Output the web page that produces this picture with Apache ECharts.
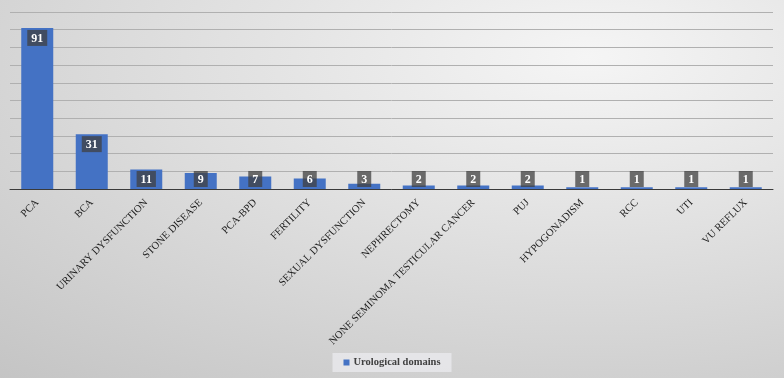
<!DOCTYPE html>
<html>
<head>
<meta charset="utf-8">
<script src="https://cdn.jsdelivr.net/npm/echarts@6/dist/echarts.min.js"></script>
<style>
html,body{margin:0;padding:0;}
#chart{width:784px;height:378px;background:radial-gradient(900px 430px at 75% 15%, #f5f5f5 0%, #c4c4c4 100%);}
</style>
</head>
<body>
<div id="chart"></div>
<script>
const categories = ['PCA','BCA','URINARY DYSFUNCTION','STONE DISEASE','PCA-BPD','FERTILITY','SEXUAL DYSFUNCTION','NEPHRECTOMY','NONE SEMINOMA TESTICULAR CANCER','PUJ','HYPOGONADISM','RCC','UTI','VU REFLUX'];
const values = [91,31,11,9,7,6,3,2,2,2,1,1,1,1];
const seriesName = 'Urological domains';

const chart = echarts.init(document.getElementById('chart'));
const serif = '"Liberation Serif", "Times New Roman", serif';
const data = values.map(v => ({
  value: v,
  label: v >= 20 ? {position: 'insideTop', distance: 2} : {position: 'insideBottom', distance: 2}
}));
chart.setOption({
  backgroundColor: 'transparent',
  animation: false,
  grid: {left: 10, right: 11, top: 12, bottom: 189},
  legend: {
    bottom: 6, left: 'center',
    itemWidth: 6, itemHeight: 6, icon: 'rect', itemGap: 4,
    backgroundColor: 'rgba(242,242,247,0.6)',
    padding: [4, 11],
    textStyle: {fontFamily: serif, fontWeight: 'bold', fontSize: 10.5, color: '#404040', padding: [0,0,0,-1]},
    data: [seriesName]
  },
  xAxis: {
    type: 'category',
    data: categories,
    axisLine: {lineStyle: {color: '#3a3a3a', width: 1}},
    axisTick: {show: false},
    axisLabel: {rotate: 45, interval: 0, margin: 12, fontFamily: serif, fontSize: 10.5, color: '#1a1a1a'}
  },
  yAxis: {
    type: 'value', min: 0, max: 100, interval: 10,
    axisLabel: {show: false},
    axisLine: {show: false}, axisTick: {show: false},
    splitLine: {lineStyle: {color: '#b0b0b0', width: 1}}
  },
  series: [{
    name: seriesName,
    type: 'bar',
    barWidth: 32,
    data: data,
    itemStyle: {color: '#4472C4'},
    label: {
      show: true,
      color: '#ffffff',
      fontFamily: serif,
      fontWeight: 'bold',
      fontSize: 12,
      backgroundColor: 'rgba(64,64,64,0.75)',
      padding: [3, 4, 1, 4]
    }
  }]
});
</script>
</body>
</html>
